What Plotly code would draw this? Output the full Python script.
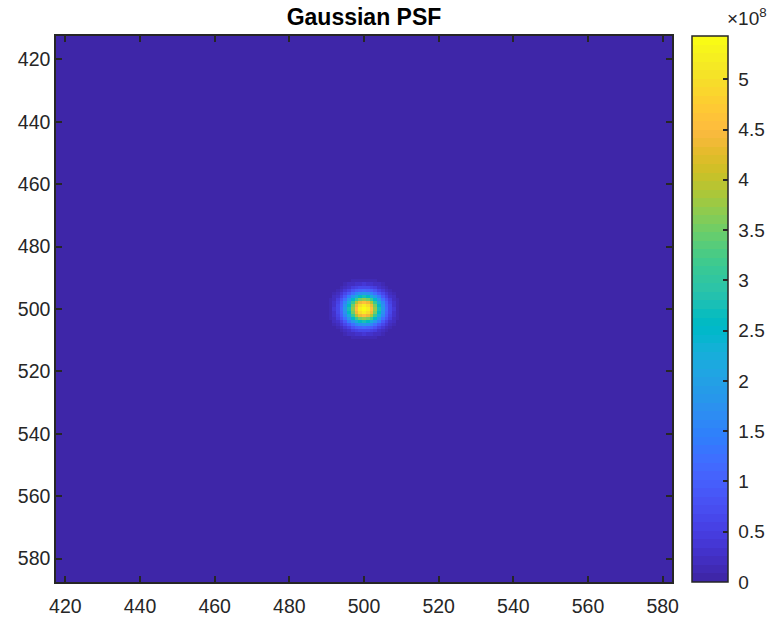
import numpy as np
import plotly.graph_objects as go

# PSF grid (pixel indices) and model parameters
x_pixels = np.arange(418, 583)
y_pixels = np.arange(413, 588)
center_xy = [500.0, 500.0]
peak_value = 5.43e8
sigma_px = 3.4
ring_radius = 12.8
ring_width = 1.0
ring_level = 0.004

# colorbar ticks (in units of 1e8)
cbar_ticks = [0, 0.5, 1, 1.5, 2, 2.5, 3, 3.5, 4, 4.5, 5]
axis_ticks = list(range(420, 581, 20))

# MATLAB parula colormap (64 entries)
parula = [
    [0.2422, 0.1504, 0.6603], [0.2504, 0.1650, 0.7076], [0.2578, 0.1818, 0.7511],
    [0.2647, 0.1978, 0.7952], [0.2706, 0.2147, 0.8364], [0.2751, 0.2342, 0.8710],
    [0.2783, 0.2559, 0.8991], [0.2803, 0.2782, 0.9221], [0.2813, 0.3006, 0.9414],
    [0.2810, 0.3228, 0.9579], [0.2795, 0.3447, 0.9717], [0.2760, 0.3667, 0.9829],
    [0.2699, 0.3892, 0.9906], [0.2602, 0.4123, 0.9952], [0.2440, 0.4358, 0.9988],
    [0.2206, 0.4603, 0.9973], [0.1963, 0.4847, 0.9892], [0.1834, 0.5074, 0.9798],
    [0.1786, 0.5289, 0.9682], [0.1764, 0.5499, 0.9520], [0.1687, 0.5703, 0.9359],
    [0.1540, 0.5902, 0.9218], [0.1460, 0.6091, 0.9079], [0.1380, 0.6276, 0.8973],
    [0.1248, 0.6459, 0.8883], [0.1113, 0.6635, 0.8763], [0.0952, 0.6798, 0.8598],
    [0.0689, 0.6948, 0.8394], [0.0297, 0.7082, 0.8163], [0.0036, 0.7203, 0.7917],
    [0.0067, 0.7312, 0.7660], [0.0433, 0.7411, 0.7394], [0.0964, 0.7500, 0.7120],
    [0.1408, 0.7584, 0.6842], [0.1717, 0.7670, 0.6554], [0.1938, 0.7758, 0.6251],
    [0.2161, 0.7843, 0.5923], [0.2470, 0.7918, 0.5567], [0.2906, 0.7973, 0.5188],
    [0.3406, 0.8008, 0.4789], [0.3909, 0.8029, 0.4354], [0.4456, 0.8024, 0.3909],
    [0.5044, 0.7993, 0.3480], [0.5616, 0.7942, 0.3045], [0.6174, 0.7876, 0.2612],
    [0.6720, 0.7793, 0.2227], [0.7242, 0.7698, 0.1910], [0.7738, 0.7598, 0.1646],
    [0.8203, 0.7498, 0.1535], [0.8634, 0.7406, 0.1596], [0.9035, 0.7330, 0.1774],
    [0.9393, 0.7288, 0.2100], [0.9728, 0.7298, 0.2394], [0.9956, 0.7434, 0.2371],
    [0.9970, 0.7659, 0.2199], [0.9952, 0.7893, 0.2028], [0.9892, 0.8136, 0.1885],
    [0.9786, 0.8386, 0.1766], [0.9676, 0.8639, 0.1643], [0.9610, 0.8890, 0.1537],
    [0.9597, 0.9135, 0.1423], [0.9628, 0.9373, 0.1265], [0.9691, 0.9606, 0.1064],
    [0.9769, 0.9839, 0.0805],
]
n = len(parula)
colorscale = []
for i, c in enumerate(parula):
    col = "rgb(%d,%d,%d)" % tuple(round(v * 255) for v in c)
    colorscale.append([i / n, col])
    colorscale.append([(i + 1) / n, col])

X, Y = np.meshgrid(x_pixels, y_pixels)
R2 = (X - center_xy[0]) ** 2 + (Y - center_xy[1]) ** 2
psf = peak_value * np.exp(-R2 / (2 * sigma_px ** 2))
psf += peak_value * ring_level * np.exp(-((np.sqrt(R2) - ring_radius) ** 2) / (2 * ring_width ** 2))
psf = np.clip(psf, 0, peak_value)

ink = "#262626"
font_family = "Liberation Sans, Arial, Helvetica"
fig = go.Figure(
    go.Heatmap(
        x=x_pixels, y=y_pixels, z=psf,
        colorscale=colorscale, zmin=0, zmax=peak_value, zsmooth=False,
        colorbar=dict(
            x=1.0325, xanchor="left", xpad=0, y=0.5, yanchor="middle",
            len=1, lenmode="fraction", ypad=0,
            thickness=36, thicknessmode="pixels",
            outlinecolor=ink, outlinewidth=1.5,
            ticks="inside", ticklen=5, tickwidth=1.5, tickcolor=ink,
            tickvals=[t * 1e8 for t in cbar_ticks],
            ticktext=["\u00a0" + ("%g" % t) for t in cbar_ticks],
            tickfont=dict(family=font_family, size=19, color=ink),
        ),
    )
)

axis_common = dict(
    showline=True, linecolor=ink, linewidth=1.5, mirror="ticks",
    ticks="inside", ticklen=6, tickwidth=1.5, tickcolor=ink,
    tickvals=axis_ticks, showgrid=False, zeroline=False, automargin=False,
    tickfont=dict(family=font_family, size=19.5, color=ink),
)
fig.update_xaxes(range=[417.5, 582.5], ticklabelstandoff=6, **axis_common)
fig.update_yaxes(range=[587.5, 412.5], ticklabelstandoff=0, **axis_common)

fig.update_layout(
    width=774, height=617,
    margin=dict(l=56, r=102, t=36, b=35, autoexpand=False),
    paper_bgcolor="white", plot_bgcolor="white",
    title=dict(
        text="<b>Gaussian PSF</b>", x=(56 + 308) / 774, xanchor="center",
        y=1 - 17 / 617, yanchor="middle",
        font=dict(family=font_family, size=23, color="black"),
    ),
    annotations=[
        dict(
            text="×10<sup>8</sup>", xref="paper", yref="paper",
            x=1.086, y=1.01, xanchor="left", yanchor="bottom",
            showarrow=False,
            font=dict(family=font_family, size=19, color=ink),
        )
    ],
)

fig.write_html("out.html")
